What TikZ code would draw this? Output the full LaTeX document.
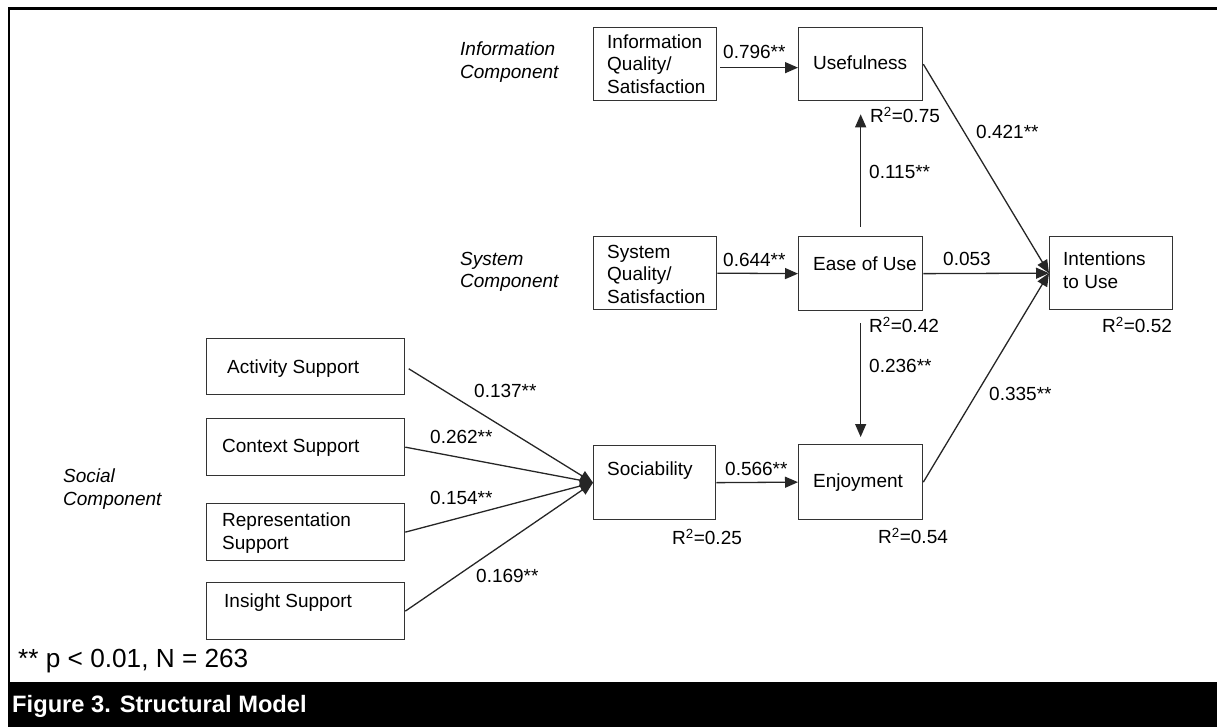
\documentclass[tikz,border=0pt]{standalone}
\usepackage{fontspec}
\setmainfont{Liberation Sans}
\usetikzlibrary{arrows.meta}

\tikzset{
  box/.style={draw=black!80, line width=1.3pt, anchor=north west, inner sep=0pt},
  txt/.style={anchor=west, inner sep=0pt, font=\fontsize{19}{22.5}\selectfont, align=left},
  lbl/.style={anchor=west, inner sep=0pt, font=\fontsize{19}{22.5}\selectfont, text height=13.6pt, text depth=0pt},
  comp/.style={anchor=west, inner sep=0pt, font=\fontsize{19}{22.5}\selectfont\itshape, align=left},
  conn/.style={draw=black!85, line width=1.3pt, -{Triangle[length=13pt,width=11pt]}},
}

\begin{document}
\begin{tikzpicture}[x=1pt, y=-1pt]
\useasboundingbox (0,0) rectangle (1217,727);

% outer frame and caption bar
\fill[black] (7.5,682) rectangle (1217,727);
\draw[line width=2.6pt] (1217,8.5) -- (9,8.5) -- (9,682);

% component headings
\node[comp] (hinfo) at (460,62) {Information\\Component};
\node[comp] (hsys)  at (460,272) {System\\Component};
\node[comp] (hsoc)  at (63,489) {Social\\Component};

% construct boxes
\node[box, minimum width=123pt, minimum height=73pt] (iq)  at (593,27) {};
\node[box, minimum width=124pt, minimum height=73pt] (use) at (798,27) {};
\node[box, minimum width=123pt, minimum height=73pt] (sq)  at (593,236) {};
\node[box, minimum width=124pt, minimum height=74pt] (eou) at (798,236) {};
\node[box, minimum width=123pt, minimum height=73pt] (int) at (1049,236) {};
\node[box, minimum width=198pt, minimum height=56pt] (act) at (206,338) {};
\node[box, minimum width=198pt, minimum height=57pt] (ctx) at (206,418) {};
\node[box, minimum width=198pt, minimum height=57pt] (rep) at (206,503) {};
\node[box, minimum width=198pt, minimum height=57pt] (ins) at (206,582) {};
\node[box, minimum width=122pt, minimum height=74pt] (soc) at (593,445) {};
\node[box, minimum width=124pt, minimum height=75pt] (enj) at (798,444) {};

% box texts
\node[txt] (iqt)  at (607,64)  {Information\\Quality/\\Satisfaction};
\node[lbl] (uset) at (813,63)  {Usefulness};
\node[txt] (sqt)  at (607,274) {System\\Quality/\\Satisfaction};
\node[lbl] (eout) at (813,264) {Ease of Use};
\node[txt] (intt) at (1063,270) {Intentions\\to Use};
\node[lbl] (actt) at (227,367) {Activity Support};
\node[lbl] (ctxt) at (222,446) {Context Support};
\node[txt] (rept) at (222,533) {Representation\\Support};
\node[lbl] (inst) at (224,601) {Insight Support};
\node[lbl] (soct) at (607,469) {Sociability};
\node[lbl] (enjt) at (813,481) {Enjoyment};

% paths
\draw[conn, shorten <=3pt] ([yshift=-3.5pt]iq.east) -- ([yshift=-3.5pt]use.west);
\draw[conn] (sq.east) -- (eou.west);
\draw[conn, shorten <=9pt, shorten >=13pt] (eou.north) -- (use.south);
\draw[conn, shorten <=12pt, shorten >=7pt] (eou.south) -- (enj.north);
\draw[conn] (use.east) -- (int.west);
\draw[conn] (eou.east) -- (int.west);
\draw[conn] (enj.east) -- (int.west);
\draw[conn] (soc.east) -- (enj.west);
\draw[conn, shorten <=4pt] (act.east) -- (soc.west);
\draw[conn] (ctx.east) -- (soc.west);
\draw[conn] (rep.east) -- (soc.west);
\draw[conn] (ins.east) -- (soc.west);

% coefficients and R-squared values
\node[lbl] (c1)  at (723,52)   {0.796**};
\node[lbl] (c2)  at (723,260)  {0.644**};
\node[lbl] (r1)  at (870,116)  {R\textsuperscript{2}=0.75};
\node[lbl] (c3)  at (869,172)  {0.115**};
\node[lbl] (r2)  at (869,326)  {R\textsuperscript{2}=0.42};
\node[lbl] (c4)  at (869,366)  {0.236**};
\node[lbl] (c5)  at (976,132)  {0.421**};
\node[lbl] (c6)  at (943,259)  {0.053};
\node[lbl] (c7)  at (989,394)  {0.335**};
\node[lbl] (r3)  at (1102,326) {R\textsuperscript{2}=0.52};
\node[lbl] (c8)  at (725,469)  {0.566**};
\node[lbl] (r4)  at (672,538)  {R\textsuperscript{2}=0.25};
\node[lbl] (r5)  at (878,537)  {R\textsuperscript{2}=0.54};
\node[lbl] (c9)  at (474,391)  {0.137**};
\node[lbl] (c10) at (430,437)  {0.262**};
\node[lbl] (c11) at (430,498)  {0.154**};
\node[lbl] (c12) at (476,576)  {0.169**};

% note and caption
\node[anchor=west, inner sep=0pt, font=\fontsize{26.2}{30}\selectfont] (note) at (18,661) {** p < 0.01, N = 263};
\node[anchor=west, inner sep=0pt, text=white, font=\fontsize{23.7}{28}\selectfont\bfseries] (cap) at (12,706) {Figure 3. Structural Model};
\end{tikzpicture}
\end{document}
